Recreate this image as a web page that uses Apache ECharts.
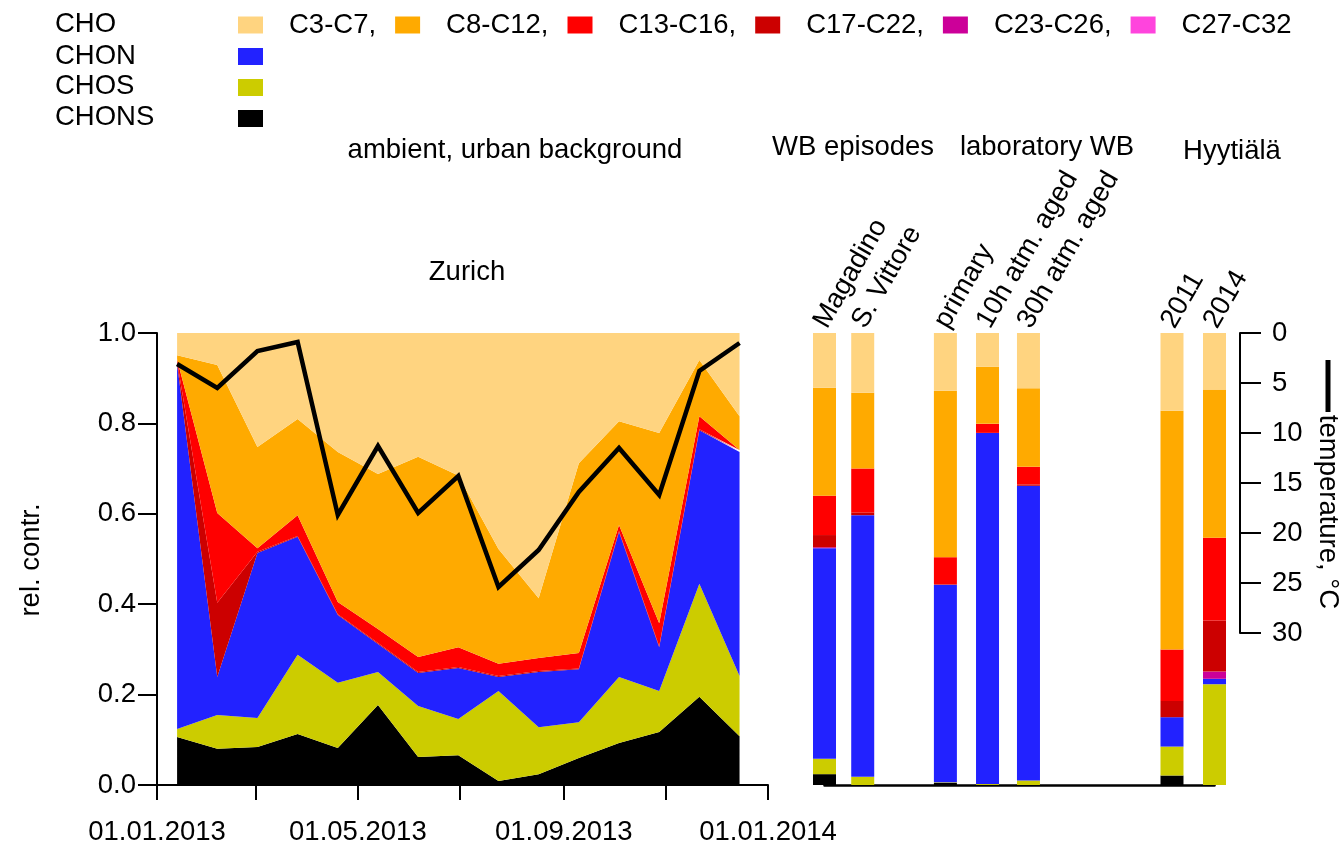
<!DOCTYPE html>
<html>
<head>
<meta charset="utf-8">
<title>rel. contr.</title>
<style>
  html, body { margin: 0; padding: 0; background: #fff; }
  #chart { width: 1344px; height: 847px; }
</style>
<script src="https://cdn.jsdelivr.net/npm/echarts@6/dist/echarts.min.js"></script>
</head>
<body>
<div id="chart"></div>
<script>
// Zurich filter samples (ambient, urban background)
var sampleDates = ['2013-01-13', '2013-02-06', '2013-03-02', '2013-03-26', '2013-04-19', '2013-05-13', '2013-06-06', '2013-06-30',
  '2013-07-24', '2013-08-17', '2013-09-10', '2013-10-04', '2013-10-28', '2013-11-21', '2013-12-15'];
var chons = [0.106, 0.080, 0.084, 0.113, 0.082, 0.177, 0.062, 0.066, 0.009, 0.024, 0.060, 0.093, 0.117, 0.195, 0.108];
var chos  = [0.018, 0.075, 0.064, 0.175, 0.144, 0.073, 0.113, 0.080, 0.199, 0.104, 0.079, 0.146, 0.091, 0.250, 0.133];
var chon  = [0.808, 0.084, 0.365, 0.261, 0.150, 0.062, 0.073, 0.113, 0.031, 0.122, 0.117, 0.321, 0.097, 0.340, 0.496];
var c27   = [0, 0, 0, 0, 0, 0, 0, 0, 0, 0, 0, 0, 0, 0, 0];
var c23   = [0, 0, 0, 0, 0, 0, 0, 0, 0, 0, 0, 0, 0, 0, 0];
var c17   = [0.005, 0.164, 0.003, 0.002, 0.002, 0.002, 0.002, 0.002, 0.002, 0.002, 0.002, 0.002, 0.002, 0.002, 0.002];
var c13   = [0.005, 0.199, 0.008, 0.046, 0.027, 0.031, 0.033, 0.044, 0.027, 0.029, 0.034, 0.013, 0.051, 0.029, 0.002];
var c8    = [0.009, 0.327, 0.224, 0.213, 0.332, 0.343, 0.443, 0.380, 0.254, 0.132, 0.420, 0.230, 0.421, 0.124, 0.075];
var c3    = [0.049, 0.071, 0.252, 0.190, 0.263, 0.312, 0.274, 0.315, 0.478, 0.587, 0.288, 0.195, 0.221, 0.060, 0.184];
var temperature = [3.1, 5.5, 1.8, 0.9, 18.2, 11.3, 18.0, 14.3, 25.4, 21.7, 15.9, 11.5, 16.2, 3.8, 1.0];

// WB episodes, laboratory WB, Hyytiälä
var barNames = ['Magadino', 'S. Vittore', 'primary', '10h atm. aged', '30h atm. aged', '2011', '2014'];
var barPos   = [0, 0.98, 3.10, 4.18, 5.23, 8.91, 10];
var barChons = [0.024, 0, 0.005, 0, 0, 0.021, 0];
var barChos  = [0.034, 0.018, 0.001, 0.002, 0.010, 0.064, 0.223];
var barChon  = [0.466, 0.579, 0.437, 0.777, 0.652, 0.065, 0.012];
var barC27   = [0, 0, 0, 0, 0, 0, 0];
var barC23   = [0.002, 0, 0, 0, 0, 0, 0.016];
var barC17   = [0.027, 0.006, 0.001, 0, 0.003, 0.036, 0.113];
var barC13   = [0.087, 0.097, 0.060, 0.020, 0.039, 0.114, 0.183];
var barC8    = [0.239, 0.168, 0.368, 0.126, 0.174, 0.528, 0.328];
var barC3    = [0.121, 0.132, 0.128, 0.075, 0.122, 0.172, 0.125];

// axis ticks
var dateTicks  = ['2013-01-01', '2013-03-01', '2013-05-01', '2013-07-01', '2013-09-01', '2013-11-01', '2014-01-01'];
var dateLabels = ['2013-01-01', '2013-05-01', '2013-09-01', '2014-01-01'];

var FONT = '"Liberation Sans", Arial, sans-serif';
var FS = 27.5;

function ts(s) {
  var p = s.split('-');
  return new Date(+p[0], +p[1] - 1, +p[2]).getTime();
}
function pad(n) { return n < 10 ? '0' + n : '' + n; }
function fmtDate(v) {
  var d = new Date(v);
  return pad(d.getDate()) + '.' + pad(d.getMonth() + 1) + '.' + d.getFullYear();
}

// bottom of the stack first
var groups = [
  { name: 'CHONS',   color: '#000000', area: chons, bars: barChons },
  { name: 'CHOS',    color: '#CCCC00', area: chos,  bars: barChos },
  { name: 'CHON',    color: '#2222FF', area: chon,  bars: barChon },
  { name: 'C27-C32', color: '#FF44DD', area: c27,   bars: barC27 },
  { name: 'C23-C26', color: '#CC0099', area: c23,   bars: barC23 },
  { name: 'C17-C22', color: '#CC0000', area: c17,   bars: barC17 },
  { name: 'C13-C16', color: '#FF0000', area: c13,   bars: barC13 },
  { name: 'C8-C12',  color: '#FFAA00', area: c8,    bars: barC8 },
  { name: 'C3-C7',   color: '#FFD480', area: c3,    bars: barC3 }
];

// value first, position second, so the stack goes on the y values
var series = [];
groups.forEach(function (g) {
  series.push({
    name: g.name, type: 'bar', xAxisIndex: 1, yAxisIndex: 2, stack: 'samples',
    barWidth: 23, silent: true,
    encode: { x: 1, y: 0 },
    data: g.bars.map(function (v, i) { return [v, barPos[i]]; }),
    itemStyle: { color: g.color }
  });
});
groups.forEach(function (g) {
  series.push({
    name: g.name, type: 'line', xAxisIndex: 0, yAxisIndex: 0, stack: 'zurich',
    symbol: 'none', silent: true, z: 2,
    encode: { x: 1, y: 0 },
    data: sampleDates.map(function (d, i) { return [g.area[i], ts(d)]; }),
    lineStyle: { width: 0 },
    itemStyle: { color: g.color },
    areaStyle: { color: g.color, opacity: 1 }
  });
});
series.push({
  name: 'temperature', type: 'line', xAxisIndex: 0, yAxisIndex: 1,
  symbol: 'none', silent: true, z: 5,
  data: sampleDates.map(function (d, i) { return [ts(d), temperature[i]]; }),
  lineStyle: { color: '#000', width: 4.5, join: 'miter' },
  itemStyle: { color: '#000' }
});

var axisLine = { show: true, lineStyle: { color: '#000', width: 2 } };
var tickLine = { color: '#000', width: 2 };

var myChart = echarts.init(document.getElementById('chart'));
var option = {
  animation: false,
  textStyle: { fontFamily: FONT },
  grid: [
    { left: 157, top: 333, width: 611, height: 452, outerBoundsMode: 'none' },
    { left: 824.5, top: 333, width: 390, height: 452, outerBoundsMode: 'none' },
    { left: 1240, top: 333, width: 1, height: 300, outerBoundsMode: 'none' }
  ],
  xAxis: [
    {
      type: 'value', gridIndex: 0, min: ts('2013-01-01'), max: ts('2014-01-01'),
      axisLine: axisLine,
      axisTick: { show: true, length: 15, lineStyle: tickLine, customValues: dateTicks.map(ts) },
      axisLabel: {
        customValues: dateLabels.map(ts), formatter: fmtDate, fontSize: FS, color: '#000', margin: 33,
        hideOverlap: false
      },
      splitLine: { show: false }
    },
    {
      type: 'value', gridIndex: 1, min: 0, max: 10,
      axisLine: { show: true, lineStyle: { color: '#000', width: 2.5 } },
      axisTick: { show: false }, axisLabel: { show: false }, splitLine: { show: false }
    },
    { type: 'value', gridIndex: 2, min: 0, max: 1, show: false }
  ],
  yAxis: [
    {
      type: 'value', gridIndex: 0, position: 'left', min: 0, max: 1, interval: 0.2,
      axisLine: axisLine,
      axisTick: { show: true, length: 19, lineStyle: tickLine },
      axisLabel: { fontSize: FS, color: '#000', margin: 21, formatter: function (v) { return v.toFixed(1); } },
      splitLine: { show: false }
    },
    { type: 'value', gridIndex: 0, min: 0, max: 45.2, inverse: true, show: false },
    { type: 'value', gridIndex: 1, min: 0, max: 1, show: false },
    {
      type: 'value', gridIndex: 2, position: 'right', min: 0, max: 30, interval: 5, inverse: true,
      axisLine: axisLine,
      axisTick: { show: true, length: 21, lineStyle: tickLine },
      axisLabel: { fontSize: FS, color: '#000', margin: 31 },
      splitLine: { show: false }
    }
  ],
  legend: [
    {
      data: ['C3-C7', 'C8-C12', 'C13-C16', 'C17-C22', 'C23-C26', 'C27-C32'],
      left: 238, top: 11, padding: 0, itemWidth: 25, itemHeight: 17, itemGap: 19,
      icon: 'rect', selectedMode: false, itemStyle: { borderWidth: 0 },
      formatter: function (n) { return n === 'C27-C32' ? n : n + ','; },
      textStyle: { fontSize: FS, color: '#000', fontFamily: FONT, padding: [0, 0, 0, 21] }
    },
    {
      data: ['CHON', 'CHOS', 'CHONS'], orient: 'vertical',
      left: 238, top: 48, padding: 0, itemWidth: 25, itemHeight: 17, itemGap: 14,
      icon: 'rect', selectedMode: false, itemStyle: { borderWidth: 0 },
      formatter: function () { return ''; },
      textStyle: { fontSize: 10 }
    }
  ],
  series: series
};
myChart.setOption(option);

function text(str, x, y, align, rot) {
  return {
    type: 'text', x: x, y: y, rotation: rot || 0, silent: true,
    style: {
      text: str, font: FS + 'px ' + FONT, fill: '#000',
      textAlign: align || 'center', textVerticalAlign: 'middle'
    }
  };
}

var graphics = [
  text('CHO', 55, 24.5, 'left'),
  text('CHON', 55, 56, 'left'),
  text('CHOS', 55, 86.7, 'left'),
  text('CHONS', 55, 117.5, 'left'),
  text('ambient, urban background', 515, 150),
  text('Zurich', 467, 272),
  text('WB episodes', 853, 147),
  text('laboratory WB', 1047, 147),
  text('Hyytiälä', 1232, 151),
  text('rel. contr.', 31, 560, 'center', Math.PI / 2),
  text('temperature, °C', 1328, 512, 'center', -Math.PI / 2),
  { type: 'line', silent: true, shape: { x1: 1328, y1: 360, x2: 1328, y2: 412 }, style: { stroke: '#000', lineWidth: 5 } }
];

// rotated sample names above the bars
var barTop = myChart.convertToPixel({ yAxisIndex: 2 }, 1);
barNames.forEach(function (name, i) {
  var cx = myChart.convertToPixel({ xAxisIndex: 1 }, barPos[i]);
  graphics.push({
    type: 'text', x: cx + 8, y: barTop, rotation: 60 * Math.PI / 180, silent: true,
    style: {
      text: name, font: FS + 'px ' + FONT, fill: '#000',
      textAlign: 'left', textVerticalAlign: 'bottom'
    }
  });
});

myChart.setOption({ graphic: graphics });
</script>
</body>
</html>
